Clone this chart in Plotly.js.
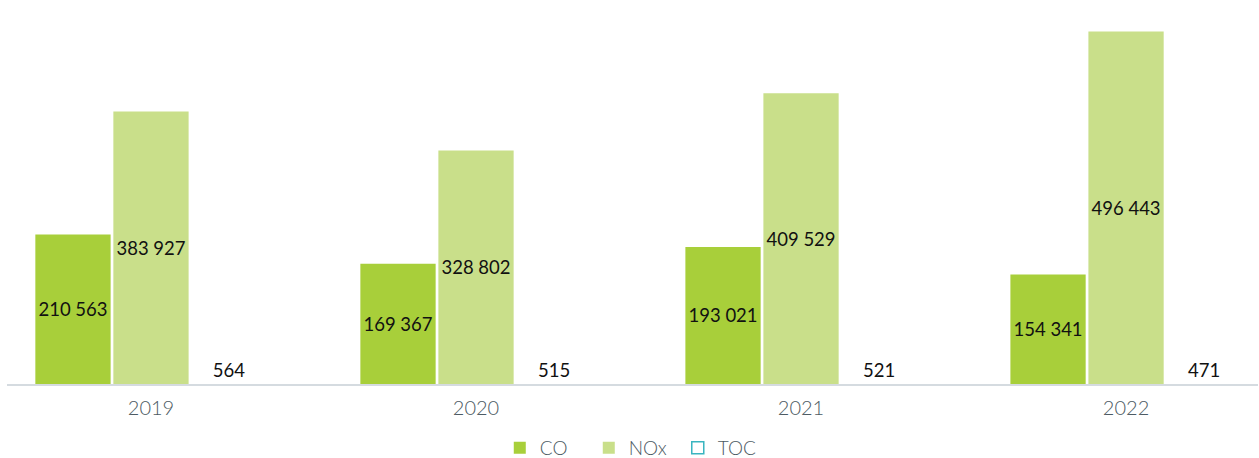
<!DOCTYPE html>
<html>
<head>
<meta charset="utf-8">
<script src="https://cdn.plot.ly/plotly-3.0.1.min.js"></script>
<style>html,body{margin:0;padding:0;background:#fff;}#chart{width:1259px;height:458px;}</style>
</head>
<body>
<div id="chart"></div>
<script>
const years = ["2019", "2020", "2021", "2022"];
const co = [210563, 169367, 193021, 154341];
const nox = [383927, 328802, 409529, 496443];
const toc = [564, 515, 521, 471];
const noValues = [null, null, null, null];

const labelFont = {family: "Lato, 'Open Sans', sans-serif", size: 18.5, color: "#111111"};
const axisFont = {family: "Lato, 'Open Sans', sans-serif", size: 20, color: "#4d5b63", weight: 300};

const traces = [
  {type: "bar", name: "CO", x: years, y: co, offsetgroup: "co",
   marker: {color: "#a8cf3a"},
   texttemplate: "%{y:,}", textposition: "inside", insidetextanchor: "middle",
   textfont: labelFont, hoverinfo: "skip"},
  {type: "bar", name: "NOx", x: years, y: nox, offsetgroup: "nox",
   marker: {color: "#c9df8a"},
   texttemplate: "%{y:,}", textposition: "inside", insidetextanchor: "middle",
   textfont: labelFont, hoverinfo: "skip"},
  {type: "bar", name: "TOC", x: years, y: toc, offsetgroup: "toc", showlegend: false,
   marker: {color: "rgba(255,255,255,0)", line: {width: 0}},
   texttemplate: "%{y:,}", textposition: "outside", cliponaxis: false,
   textfont: labelFont, hoverinfo: "skip"},
  {type: "bar", name: "TOC", x: years, y: noValues, offsetgroup: "toc",
   marker: {color: "#ffffff", line: {color: "#3ab5c0", width: 1.5}},
   hoverinfo: "skip"}
];

const layout = {
  width: 1259, height: 458,
  margin: {l: 7, r: 1, t: 0, b: 74},
  paper_bgcolor: "#ffffff", plot_bgcolor: "#ffffff",
  separators: ". ",
  barmode: "group", bargap: 0.28, bargroupgap: 0.035,
  showlegend: true,
  legend: {orientation: "h", x: 0.503, xanchor: "center", xref: "container",
           y: 0.022, yanchor: "middle", yref: "container",
           entrywidth: 44, entrywidthmode: "pixels",
           bgcolor: "rgba(255,255,255,0)",
           font: {family: "Lato, 'Open Sans', sans-serif", size: 19, color: "#4d5b63", weight: 300},
           itemclick: false},
  xaxis: {type: "category", range: [-0.443, 3.406], showgrid: false, zeroline: false,
          showline: true, linecolor: "#d5dbe0", linewidth: 2,
          ticks: "outside", ticklen: 5, tickcolor: "rgba(0,0,0,0)",
          tickfont: axisFont},
  yaxis: {range: [0, 540800], visible: false, showgrid: false, zeroline: false, fixedrange: true}
};

Plotly.newPlot("chart", traces, layout, {displayModeBar: false, staticPlot: true});
</script>
</body>
</html>
